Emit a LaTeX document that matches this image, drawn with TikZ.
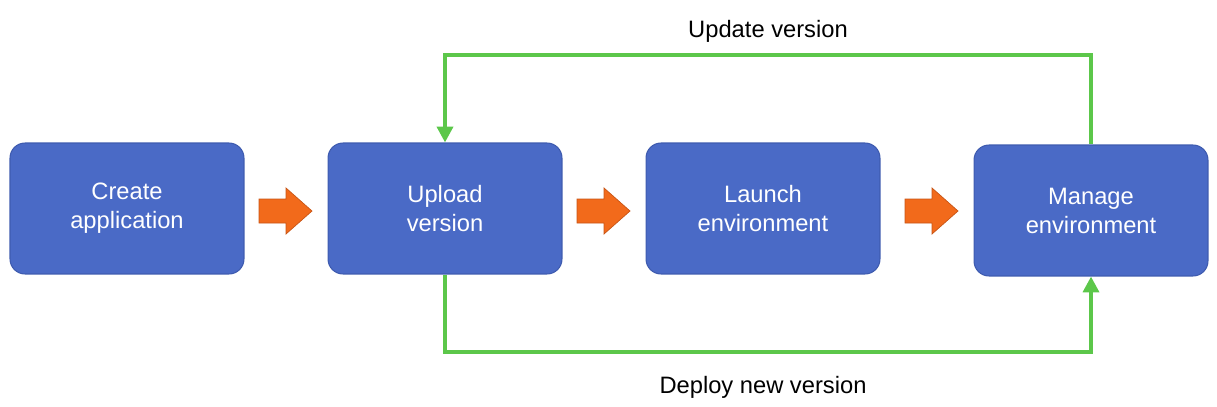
\documentclass[tikz,border=0pt]{standalone}
\usepackage{fontspec}
\setmainfont{Liberation Sans}
\usetikzlibrary{arrows.meta}
\definecolor{boxc}{HTML}{4A6AC6}
\definecolor{boxb}{HTML}{3E5BAF}
\definecolor{grn}{HTML}{5CC74A}
\definecolor{org}{HTML}{F26A1B}
\definecolor{orgb}{HTML}{C75516}
\begin{document}
\begin{tikzpicture}[x=0.02cm,y=-0.02cm,
  box/.style={draw=boxb,line width=0.6pt,fill=boxc,rounded corners=0.3cm,minimum width=4.68cm,minimum height=2.62cm,text=white,align=center,font=\fontsize{13.5}{16.5}\selectfont},
  lbl/.style={font=\fontsize{13.5}{16}\selectfont},
  gline/.style={draw=grn,line width=2.2pt,-{Triangle[length=9pt,width=9pt]}},
  oarrow/.style={fill=org,draw=orgb,line width=0.4pt}]
\useasboundingbox (0,0) rectangle (1217,406);
\node[box] (a) at (127,208.5) {Create\\application};
\node[box] (b) at (445,208.5) {Upload\\version};
\node[box] (c) at (763,208.5) {Launch\\environment};
\node[box] (d) at (1091,210.5) {Manage\\environment};
\foreach \x in {259,577,905}{
  \draw[oarrow] (\x,199) -- ++(27,0) -- ++(0,-11) -- ++(26,23) -- ++(-26,23) -- ++(0,-11) -- ++(-27,0) -- cycle;
}
\coordinate (t1) at (1091,55);
\coordinate (t2) at (445,55);
\coordinate (b1) at (445,352);
\coordinate (b2) at (1091,352);
\draw[gline] (d.north) -- (t1) -- (t2) -- (b.north);
\draw[gline] (b.south) -- (b1) -- (b2) -- (d.south);
\node[lbl] (u) at (768,31) {Update version};
\node[lbl] (v) at (763,387) {Deploy new version};
\end{tikzpicture}
\end{document}
